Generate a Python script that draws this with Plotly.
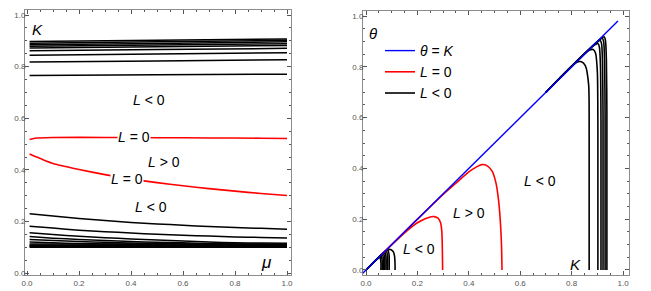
import plotly.graph_objects as go

# ---------------- Left panel data (mu vs K contours) ----------------
mu_grid = [0.01, 0.1, 0.2, 0.3, 0.4, 0.5, 0.6, 0.7, 0.8, 0.9, 1.0]

# upper black contours (L<0), nearly flat, slowly rising
upper_left_K = [0.897, 0.891, 0.885, 0.879, 0.872, 0.862, 0.844, 0.818, 0.766]
upper_mid_K = [0.902, 0.896, 0.890, 0.884, 0.877, 0.866, 0.849, 0.822, 0.769]
upper_right_K = [0.907, 0.902, 0.896, 0.889, 0.882, 0.871, 0.854, 0.827, 0.771]
upper_mu = [0.01, 0.5, 1.0]

# red L=0 contours
red_top_mu = [0.01, 0.03, 0.1, 0.3, 0.5, 0.7, 0.9, 1.0]
red_top_K = [0.518, 0.523, 0.526, 0.526, 0.525, 0.524, 0.523, 0.522]
red_low_K = [0.462, 0.425, 0.402, 0.382, 0.365, 0.351, 0.339, 0.328, 0.318, 0.309, 0.301]

# lower black contours (L<0)
low_A = [0.231, 0.222, 0.212, 0.204, 0.197, 0.191, 0.186, 0.181, 0.177, 0.174, 0.171]
low_B = [0.182, 0.175, 0.167, 0.161, 0.156, 0.151, 0.147, 0.144, 0.141, 0.139, 0.137]
low_C = [0.157, 0.150, 0.143, 0.138, 0.133, 0.129, 0.125, 0.121, 0.118, 0.117, 0.116]
low_D = [0.142, 0.136, 0.131, 0.127, 0.123, 0.120, 0.118, 0.115, 0.113, 0.112, 0.111]
low_E = [0.131, 0.127, 0.123, 0.120, 0.117, 0.115, 0.113, 0.112, 0.111, 0.110, 0.109]
low_F = [0.121, 0.118, 0.115, 0.113, 0.112, 0.110, 0.109, 0.108, 0.107, 0.107, 0.106]
band_K = [0.113, 0.110, 0.107, 0.104, 0.101]

# ---------------- Right panel data (K vs theta) ----------------
diag = [-0.05, 0.98]

red1_K = [0.06, 0.12, 0.16, 0.20, 0.23, 0.25, 0.265, 0.28, 0.29, 0.295, 0.297, 0.298]
red1_T = [0.06, 0.118, 0.155, 0.186, 0.202, 0.209, 0.210, 0.204, 0.186, 0.15, 0.08, 0.0]

red2_K = [0.06, 0.2, 0.3, 0.35, 0.4, 0.43, 0.45, 0.47, 0.49, 0.505, 0.515, 0.522, 0.527, 0.529]
red2_T = [0.06, 0.2, 0.298, 0.342, 0.386, 0.406, 0.415, 0.411, 0.39, 0.345, 0.28, 0.2, 0.1, 0.0]

# small black contours near origin: (drop K, peak theta)
small_drop = [0.058, 0.063, 0.068, 0.073, 0.078, 0.084, 0.090]
small_peak = [0.050, 0.055, 0.060, 0.064, 0.068, 0.072, 0.076]
arch_K = [0.03, 0.075, 0.088, 0.098, 0.106, 0.111, 0.113, 0.113]
arch_T = [0.03, 0.075, 0.081, 0.080, 0.072, 0.055, 0.02, 0.0]

# upper black contours near K~0.9: (peak K, peak theta, drop K)
up_peakK = [0.838, 0.884, 0.902, 0.911, 0.919, 0.926]
up_peakT = [0.820, 0.868, 0.892, 0.904, 0.912, 0.918]
up_drop = [0.868, 0.902, 0.914, 0.922, 0.930, 0.937]

BLACK = "#000000"
RED = "#ff0000"
BLUE = "#0000ff"
FONT = "Liberation Sans"

fig = go.Figure()

def add(x, y, color, width, xa, ya, name=None, legend=False, rank=None):
    fig.add_trace(go.Scatter(x=x, y=y, mode="lines", line=dict(color=color, width=width, shape="spline", smoothing=0.6),
                             xaxis=xa, yaxis=ya, name=name, showlegend=legend,
                             legendrank=rank if rank else 1000, hoverinfo="skip"))

# left panel
for a, m, b in zip(upper_left_K, upper_mid_K, upper_right_K):
    add(upper_mu, [a, m, b], BLACK, 1.5, "x", "y")
add(red_top_mu, red_top_K, RED, 1.6, "x", "y")
add(mu_grid, red_low_K, RED, 1.6, "x", "y")
for arr in [low_A, low_B, low_C, low_D, low_E, low_F]:
    add(mu_grid, arr, BLACK, 1.5, "x", "y")
for k in band_K:
    add([0.01, 1.0], [k, k], BLACK, 1.5, "x", "y")

# right panel
first = True
for pk, pt, dk in zip(up_peakK, up_peakT, up_drop):
    xs = [0.70, pk - 0.02, pk, (pk + dk) / 2, dk - 0.002, dk, dk]
    ys = [0.70, pk - 0.021, pt, pt - 0.015, pt - 0.09, pt - 0.3, 0.0]
    add(xs, ys, BLACK, 1.6, "x2", "y2", name="<i>L</i> &lt; 0", legend=first, rank=3)
    first = False
for dk, pt in zip(small_drop, small_peak):
    xs = [0.0, pt - 0.002, dk - 0.004, dk, dk]
    ys = [0.0, pt - 0.003, pt, pt - 0.02, 0.0]
    add(xs, ys, BLACK, 1.6, "x2", "y2")
add(arch_K, arch_T, BLACK, 1.6, "x2", "y2")
add(red1_K, red1_T, RED, 1.6, "x2", "y2", name="<i>L</i> = 0", legend=True, rank=2)
add(red2_K, red2_T, RED, 1.6, "x2", "y2")
add(diag, diag, BLUE, 1.4, "x2", "y2", name="<i>θ</i> = <i>K</i>", legend=True, rank=1)

axis_common = dict(
    showgrid=False, zeroline=False, showline=True, linecolor="#8c8c8c", linewidth=1,
    mirror="ticks", ticks="inside", ticklen=4, tickwidth=1, tickcolor="#555555",
    dtick=0.2, tick0=0, tickformat=".1f",
    tickfont=dict(family=FONT, size=8, color="#555555"),
    minor=dict(dtick=0.05, ticks="inside", ticklen=2, tickcolor="#555555"),
    automargin=False,
)
yaxis_extra = dict(ticklabelstandoff=-3)

fig.update_layout(
    width=651, height=291,
    margin=dict(l=0, r=0, t=0, b=0),
    paper_bgcolor="white", plot_bgcolor="white",
    font=dict(family=FONT, size=14, color="black"),
    xaxis=dict(axis_common, domain=[25 / 651, 291 / 651], range=[-0.0077, 1.0154]),
    yaxis=dict(axis_common, **yaxis_extra, domain=[16 / 291, 281 / 291], range=[-0.0066, 1.0194]),
    xaxis2=dict(axis_common, domain=[363 / 651, 629 / 651], range=[-0.0117, 1.023], anchor="y2"),
    yaxis2=dict(axis_common, **yaxis_extra, domain=[15.7 / 291, 280 / 291], range=[-0.0209, 1.0197], anchor="x2"),
    legend=dict(x=380 / 651, y=1 - 35 / 291, xanchor="left", yanchor="top",
                font=dict(family=FONT, size=14), bgcolor="rgba(0,0,0,0)", itemwidth=30),
    showlegend=True,
)

def label(text, x, y, xref, yref, size=14, bg=None):
    fig.add_annotation(text=text, x=x, y=y, xref=xref, yref=yref, showarrow=False,
                       font=dict(family=FONT, size=size, color="black"),
                       bgcolor=bg if bg else "rgba(0,0,0,0)", borderpad=0)

# left panel labels
label("<i>K</i>", 0.04, 0.945, "x", "y", size=15)
label("<i>L</i> &lt; 0", 0.47, 0.67, "x", "y")
label("<i>L</i> = 0", 0.41, 0.527, "x", "y", bg="white")
label("<i>L</i> &gt; 0", 0.527, 0.431, "x", "y")
label("<i>L</i> = 0", 0.385, 0.367, "x", "y", bg="white")
label("<i>L</i> &lt; 0", 0.477, 0.257, "x", "y")
label("<i>μ</i>", 0.92, 0.04, "x", "y", size=17)

# right panel labels
label("<i>θ</i>", 0.027, 0.93, "x2", "y2", size=15)
label("<i>L</i> &lt; 0", 0.676, 0.352, "x2", "y2")
label("<i>L</i> &gt; 0", 0.40, 0.226, "x2", "y2")
label("<i>L</i> &lt; 0", 0.206, 0.081, "x2", "y2")
label("<i>K</i>", 0.813, 0.02, "x2", "y2", size=15)

fig.write_html("out.html", config={"displayModeBar": False},
               post_script="document.body.style.margin='0';document.body.style.overflow='hidden';")
